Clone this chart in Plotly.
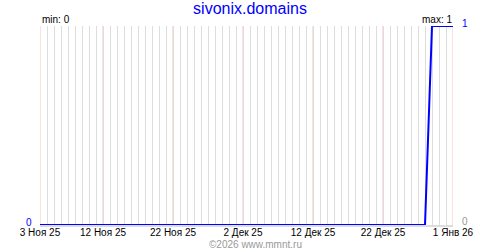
import plotly.graph_objects as go
import pandas as pd

title = "sivonix.domains"
dates = pd.date_range("2025-11-03", "2026-01-01", freq="D")
values = [0] * 56 + [1] * 4  # 0 through Dec 28, 1 from Dec 29
tick_dates = ["2025-11-03", "2025-11-12", "2025-11-22", "2025-12-02",
              "2025-12-12", "2025-12-22", "2026-01-01"]
tick_labels = ["3 Ноя 25", "12 Ноя 25", "22 Ноя 25", "2 Дек 25",
               "12 Дек 25", "22 Дек 25", "1 Янв 26"]
min_val = min(values)
max_val = max(values)

FONT = "Liberation Sans"
L, R, T, B = 40, 47, 26, 25
W, H = 500, 250
pw = W - L - R
ph = H - T - B

def px(x):
    return (x - L) / pw

def py(y):
    return (H - B - y) / ph

fig = go.Figure()
fig.add_trace(go.Scatter(
    x=dates, y=values, mode="lines",
    line=dict(color="#0000ff", width=2),
    cliponaxis=False, hoverinfo="skip", showlegend=False,
))

rng = [dates[0], dates[-1]]
fig.update_layout(
    width=W, height=H,
    margin=dict(l=L, r=R, t=T, b=B, pad=0, autoexpand=False),
    paper_bgcolor="white", plot_bgcolor="white",
    font=dict(family=FONT, size=10, color="black"),
    title=dict(text=title, x=0.5, xanchor="center", y=1 - 8 / H, yanchor="middle",
               font=dict(family=FONT, size=16, color="#0000ff"), automargin=False),
    xaxis=dict(
        type="date", automargin=False, range=rng,
        tickmode="array", tickvals=tick_dates, ticktext=tick_labels,
        showgrid=False,
        minor=dict(tickmode="linear", tick0=dates[0], dtick=86400000, showgrid=True,
                   gridcolor="#dddddd", gridwidth=1, ticks=""),
        ticks="", showline=True, linecolor="#dddddd", linewidth=2, zeroline=False,
        tickfont=dict(family=FONT, size=10, color="black"),
        ticklabelstandoff=-3,
    ),
    yaxis=dict(range=[0, 1], showgrid=False, zeroline=False, showticklabels=False,
               showline=False, ticks="", automargin=False),
)

# label-date grid lines in pink
for d in tick_dates:
    fig.add_shape(type="line", xref="x", yref="paper", x0=d, x1=d, y0=0, y1=1,
                  line=dict(color="#ffc0c0", width=1), layer="between")

ann = [
    dict(text="min: " + str(min_val), x=px(41), y=py(19.5), xanchor="left", font_color="black"),
    dict(text="max: " + str(max_val), x=px(453), y=py(19.5), xanchor="right", font_color="black"),
    dict(text=str(min_val), x=px(33), y=py(222), xanchor="right", font_color="#0000ff"),
    dict(text=str(max_val), x=px(461), y=py(24), xanchor="left", font_color="#0000ff"),
    dict(text="0", x=px(461), y=py(221), xanchor="left", font_color="#999999"),
    dict(text="©2026 www.mmnt.ru", x=px(255), y=py(244), xanchor="center", font_color="#999999"),
]
for a in ann:
    fig.add_annotation(xref="paper", yref="paper", showarrow=False, yanchor="middle",
                       text=a["text"], x=a["x"], y=a["y"], xanchor=a["xanchor"],
                       font=dict(family=FONT, size=10, color=a["font_color"]),
                       borderpad=0)

fig.write_html("out.html")
